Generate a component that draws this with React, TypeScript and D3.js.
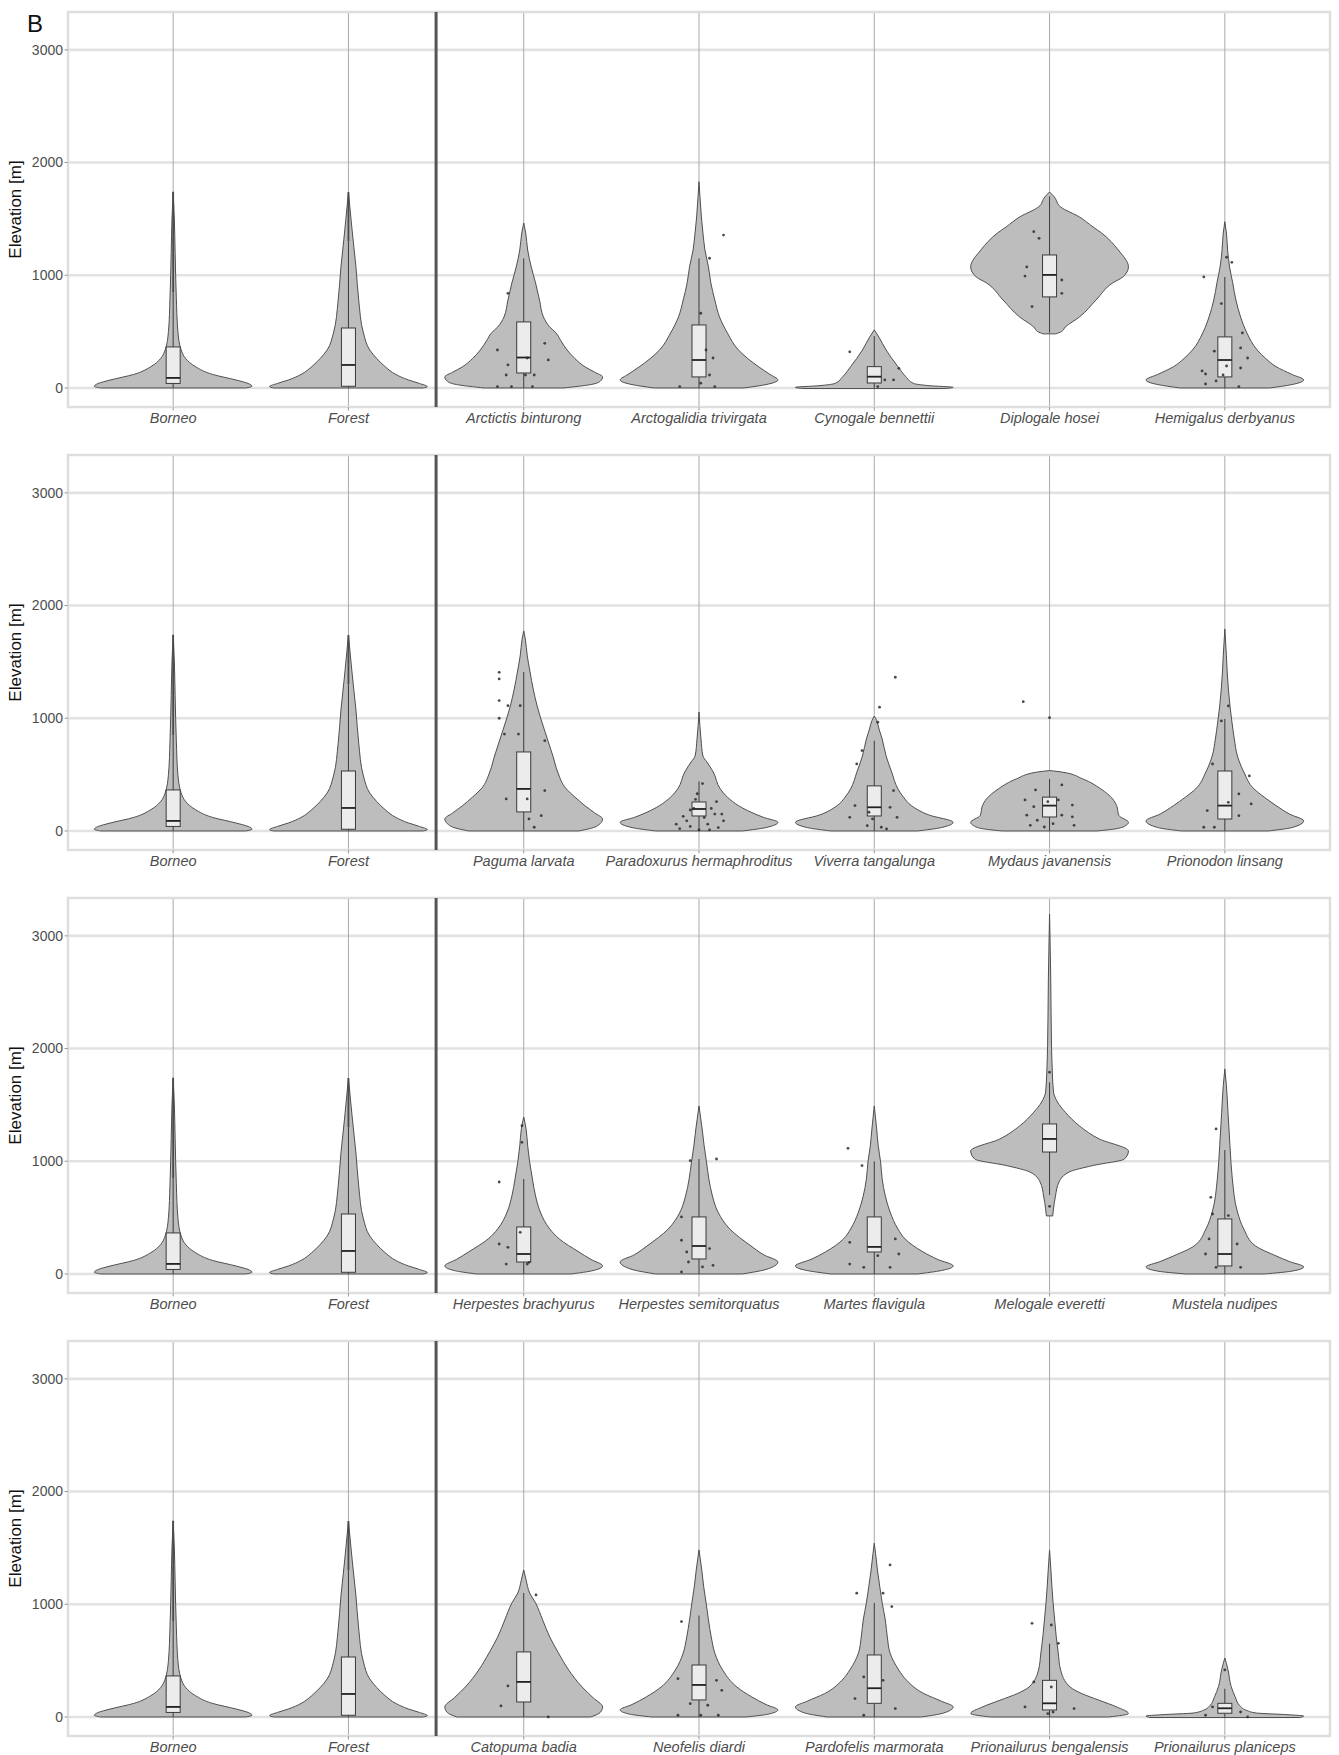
import React from "react";
import * as d3 from "d3";

// ---------- categories ----------
const baseCats = ["Borneo", "Forest"];
const row1Species = ["Arctictis binturong", "Arctogalidia trivirgata", "Cynogale bennettii", "Diplogale hosei", "Hemigalus derbyanus"];
const row2Species = ["Paguma larvata", "Paradoxurus hermaphroditus", "Viverra tangalunga", "Mydaus javanensis", "Prionodon linsang"];
const row3Species = ["Herpestes brachyurus", "Herpestes semitorquatus", "Martes flavigula", "Melogale everetti", "Mustela nudipes"];
const row4Species = ["Catopuma badia", "Neofelis diardi", "Pardofelis marmorata", "Prionailurus bengalensis", "Prionailurus planiceps"];
const rows = [row1Species, row2Species, row3Species, row4Species];
const yTicks = [0, 1000, 2000, 3000];
const yDomain = [-169, 3336];

// ---------- violin density profiles: [elevation, relative width] ----------
const vBorneo = [[0, 0.92], [15, 1.0], [40, 0.95], [70, 0.8], [120, 0.5], [190, 0.28], [260, 0.16], [340, 0.1], [500, 0.06], [800, 0.04], [1200, 0.025], [1500, 0.015], [1740, 0]];
const vForest = [[0, 0.95], [12, 1.0], [40, 0.9], [71, 0.76], [120, 0.6], [186, 0.47], [260, 0.36], [337, 0.27], [488, 0.19], [781, 0.13], [1074, 0.095], [1375, 0.05], [1517, 0.03], [1739, 0]];
const vArctictis = [[0, 0.5], [30, 0.85], [60, 0.97], [98, 1.0], [140, 0.9], [186, 0.78], [260, 0.65], [337, 0.55], [420, 0.47], [488, 0.41], [541, 0.33], [630, 0.25], [781, 0.2], [932, 0.15], [1074, 0.095], [1224, 0.05], [1375, 0.025], [1464, 0]];
const vArctogalidia = [[0, 0.57], [30, 0.85], [71, 1.0], [120, 0.9], [186, 0.76], [260, 0.62], [337, 0.5], [488, 0.36], [630, 0.26], [781, 0.2], [932, 0.15], [1074, 0.12], [1225, 0.075], [1375, 0.05], [1517, 0.03], [1700, 0.012], [1830, 0]];
const vCynogale = [[-5, 0.9], [5, 1.0], [20, 0.7], [40, 0.5], [100, 0.4], [189, 0.3], [337, 0.15], [450, 0.06], [515, 0]];
const vDiplogale = [[480, 0.08], [500, 0.15], [541, 0.2], [630, 0.38], [781, 0.59], [932, 0.8], [985, 0.93], [1074, 1.0], [1225, 0.87], [1375, 0.66], [1429, 0.55], [1517, 0.38], [1606, 0.14], [1695, 0.06], [1739, 0]];
const vHemigalus = [[0, 0.57], [30, 0.85], [71, 1.0], [120, 0.85], [189, 0.65], [260, 0.52], [337, 0.41], [488, 0.28], [630, 0.2], [781, 0.14], [932, 0.1], [1074, 0.06], [1224, 0.035], [1375, 0.02], [1475, 0]];
const vPaguma = [[0, 0.7], [40, 0.92], [106, 1.0], [160, 0.9], [222, 0.78], [300, 0.65], [373, 0.54], [524, 0.43], [665, 0.37], [816, 0.3], [967, 0.23], [1109, 0.17], [1260, 0.12], [1411, 0.08], [1553, 0.045], [1704, 0.02], [1775, 0]];
const vParadoxurus = [[0, 0.55], [30, 0.85], [77, 1.0], [120, 0.82], [166, 0.66], [225, 0.5], [300, 0.36], [373, 0.27], [524, 0.18], [612, 0.1], [665, 0.05], [816, 0.025], [1056, 0]];
const vViverra = [[0, 0.55], [30, 0.85], [77, 1.0], [140, 0.7], [225, 0.47], [300, 0.37], [373, 0.3], [524, 0.22], [665, 0.15], [816, 0.1], [905, 0.06], [980, 0.03], [1020, 0]];
const vMydaus = [[0, 0.6], [20, 0.85], [50, 0.97], [77, 1.0], [136, 0.88], [225, 0.85], [284, 0.8], [373, 0.65], [462, 0.42], [521, 0.17], [536, 0]];
const vPrionodon = [[0, 0.55], [30, 0.85], [89, 1.0], [150, 0.82], [225, 0.65], [300, 0.5], [373, 0.37], [524, 0.24], [665, 0.16], [816, 0.12], [967, 0.09], [1109, 0.065], [1260, 0.045], [1411, 0.03], [1553, 0.02], [1792, 0]];
const vHerpBrach = [[0, 0.6], [30, 0.88], [71, 1.0], [130, 0.85], [195, 0.7], [311, 0.45], [399, 0.33], [550, 0.21], [692, 0.15], [843, 0.11], [994, 0.075], [1138, 0.05], [1287, 0.03], [1393, 0]];
const vHerpSemi = [[0, 0.55], [40, 0.85], [106, 1.0], [170, 0.82], [248, 0.66], [399, 0.39], [550, 0.24], [692, 0.17], [843, 0.125], [994, 0.095], [1138, 0.065], [1287, 0.04], [1491, 0]];
const vMartes = [[0, 0.55], [30, 0.85], [71, 1.0], [130, 0.8], [195, 0.62], [311, 0.39], [399, 0.3], [550, 0.2], [692, 0.14], [843, 0.1], [994, 0.08], [1138, 0.05], [1287, 0.03], [1491, 0]];
const vMelogale = [[515, 0.04], [577, 0.05], [692, 0.075], [816, 0.12], [905, 0.25], [962, 0.55], [1020, 0.95], [1091, 1.0], [1198, 0.63], [1313, 0.38], [1435, 0.2], [1526, 0.1], [1615, 0.05], [1792, 0.035], [2024, 0.025], [2618, 0.015], [2900, 0.008], [3194, 0]];
const vMustela = [[0, 0.5], [25, 0.85], [62, 1.0], [110, 0.82], [160, 0.65], [248, 0.39], [399, 0.24], [550, 0.16], [843, 0.095], [1138, 0.065], [1435, 0.04], [1670, 0.02], [1819, 0]];
const vCatopuma = [[0, 0.85], [40, 0.97], [89, 1.0], [170, 0.88], [266, 0.74], [417, 0.57], [568, 0.44], [710, 0.33], [861, 0.24], [1012, 0.15], [1100, 0.075], [1216, 0.03], [1304, 0]];
const vNeofelis = [[0, 0.6], [25, 0.88], [62, 1.0], [110, 0.85], [177, 0.67], [266, 0.48], [417, 0.3], [568, 0.2], [710, 0.155], [861, 0.12], [1012, 0.09], [1154, 0.06], [1304, 0.035], [1482, 0]];
const vPardofelis = [[0, 0.6], [35, 0.88], [89, 1.0], [140, 0.85], [207, 0.63], [325, 0.41], [417, 0.31], [568, 0.2], [710, 0.165], [861, 0.14], [1012, 0.1], [1154, 0.07], [1304, 0.04], [1452, 0.016], [1541, 0]];
const vBengalensis = [[0, 0.75], [30, 1.0], [89, 0.85], [148, 0.63], [207, 0.41], [266, 0.26], [417, 0.14], [568, 0.11], [710, 0.085], [861, 0.065], [1012, 0.045], [1154, 0.03], [1304, 0.017], [1482, 0]];
const vPlaniceps = [[-5, 0.95], [8, 1.0], [20, 0.8], [35, 0.4], [60, 0.27], [100, 0.19], [180, 0.13], [270, 0.08], [420, 0.04], [523, 0]];

// ---------- boxplot stats: [whiskerLow, q1, median, q3, whiskerHigh] ----------
const boxBorneo = [0, 40, 89, 364, 850];
const boxForest = [0, 15, 204, 532, 1300];
const boxArctictis = [0, 133, 270, 586, 1150];
const boxArctogalidia = [0, 98, 248, 559, 1150];
const boxCynogale = [0, 44, 100, 189, 460];
const boxDiplogale = [490, 808, 1003, 1180, 1700];
const boxHemigalus = [0, 98, 248, 453, 985];
const boxPaguma = [0, 169, 373, 701, 1410];
const boxParadoxurus = [0, 133, 195, 257, 440];
const boxViverra = [0, 133, 210, 400, 800];
const boxMydaus = [0, 124, 225, 300, 462];
const boxPrionodon = [0, 106, 225, 532, 994];
const boxHerpBrach = [0, 106, 177, 417, 843];
const boxHerpSemi = [0, 133, 248, 506, 1020];
const boxMartes = [0, 195, 240, 506, 1000];
const boxMelogale = [700, 1082, 1198, 1331, 1700];
const boxMustela = [0, 71, 177, 488, 1100];
const boxCatopuma = [0, 133, 311, 577, 1100];
const boxNeofelis = [0, 151, 284, 461, 900];
const boxPardofelis = [0, 121, 255, 550, 1012];
const boxBengalensis = [0, 62, 121, 325, 650];
const boxPlaniceps = [0, 33, 77, 121, 250];

// dense outlier columns [from, to]
const outlierColumns = { Borneo: [850, 1740], Forest: [1300, 1739] };

// ---------- jittered observations: [jitter (category units), elevation] ----------
const ptsArctictis = [[-0.09, 840], [-0.15, 337], [0.12, 396], [0.14, 249], [-0.09, 204], [-0.1, 115], [-0.15, 12], [-0.07, 12], [0.01, 115], [0.06, 115], [0.05, 12], [0.02, 266]];
const ptsArctogalidia = [[0.14, 1357], [0.06, 1151], [0.01, 663], [0.08, 266], [0.04, 337], [-0.11, 12], [0.06, 115], [0.09, 12], [0.01, 42]];
const ptsCynogale = [[-0.14, 321], [0.14, 174], [0.11, 71], [0.06, 71], [0.02, 12]];
const ptsDiplogale = [[-0.09, 1387], [-0.06, 1328], [-0.13, 1074], [-0.14, 993], [0.07, 958], [0.07, 840], [-0.1, 722]];
const ptsHemigalus = [[0.01, 1160], [0.04, 1115], [-0.12, 985], [-0.02, 749], [0.1, 488], [0.09, 355], [0.13, 266], [0.09, 177], [-0.06, 326], [-0.13, 151], [-0.11, 124], [-0.11, 35], [-0.05, 62], [0.01, 195], [-0.01, 115], [0.08, 12]];
const ptsPaguma = [[-0.14, 1408], [-0.14, 1349], [-0.14, 1157], [-0.09, 1112], [-0.02, 1112], [-0.14, 1000], [-0.11, 860], [-0.03, 860], [0.12, 801], [0.12, 358], [-0.1, 284], [0.1, 136], [0.03, 107], [0.06, 33], [0.02, 284]];
const ptsParadoxurus = [[-0.05, 186], [-0.02, 280], [0.1, 260], [0.09, 150], [-0.07, 90], [0.05, 60], [-0.11, 20], [0.11, 30], [0.03, 120], [-0.03, 200], [-0.09, 130], [0.07, 200], [0.14, 90], [-0.13, 60], [0.0, 10], [0.06, 10], [-0.05, 40], [0.13, 150], [-0.01, 330], [0.02, 420]];
const ptsViverra = [[0.12, 1364], [0.03, 1098], [0.02, 965], [-0.07, 713], [-0.1, 595], [0.11, 358], [0.09, 210], [0.13, 121], [-0.14, 121], [-0.03, 166], [-0.01, 107], [0.04, 33], [-0.04, 47], [0.07, 18], [-0.11, 225]];
const ptsMydaus = [[-0.15, 1147], [0.0, 1005], [-0.08, 364], [0.07, 408], [-0.14, 275], [-0.09, 215], [0.13, 230], [-0.13, 140], [0.07, 140], [0.13, 125], [-0.11, 50], [-0.03, 35], [0.02, 65], [0.14, 50], [-0.01, 260], [0.05, 275], [-0.07, 95]];
const ptsPrionodon = [[0.14, 488], [0.02, 1109], [-0.02, 976], [-0.07, 594], [0.08, 329], [0.15, 240], [0.08, 136], [-0.1, 181], [-0.12, 33], [-0.06, 33], [0.02, 254]];
const ptsHerpBrach = [[-0.01, 1168], [-0.01, 1316], [-0.14, 816], [-0.14, 266], [-0.09, 236], [-0.1, 88], [0.02, 88], [0.03, 103], [-0.02, 369]];
const ptsHerpSemi = [[0.1, 1020], [-0.05, 1005], [-0.1, 506], [-0.1, 299], [-0.07, 195], [-0.06, 106], [0.08, 77], [0.02, 62], [-0.1, 18], [0.06, 225]];
const ptsMartes = [[-0.15, 1115], [-0.07, 962], [-0.14, 281], [0.12, 311], [0.14, 177], [-0.14, 88], [-0.06, 59], [0.09, 59], [0.02, 162]];
const ptsMelogale = [[0.0, 1790], [0.0, 600]];
const ptsMustela = [[-0.05, 1287], [-0.08, 680], [-0.07, 532], [-0.09, 311], [-0.11, 177], [0.07, 266], [0.09, 59], [-0.05, 59], [0.02, 518]];
const ptsCatopuma = [[0.07, 1083], [-0.09, 275], [-0.13, 98], [0.14, 0]];
const ptsNeofelis = [[-0.1, 846], [-0.12, 340], [0.1, 325], [0.13, 236], [-0.05, 118], [0.05, 104], [-0.12, 15], [0.11, 15], [0.01, 15]];
const ptsPardofelis = [[0.09, 1349], [-0.1, 1098], [0.05, 1098], [0.1, 979], [-0.06, 355], [-0.11, 163], [0.05, 325], [0.12, 74], [-0.06, 15]];
const ptsBengalensis = [[-0.1, 831], [0.01, 816], [0.05, 653], [-0.09, 311], [0.01, 266], [-0.14, 89], [0.14, 74], [-0.01, 30], [0.02, 44]];
const ptsPlaniceps = [[0.0, 417], [-0.07, 89], [0.09, 44], [-0.11, 15], [0.13, 0]];

const violinTable = {
  Borneo: vBorneo, Forest: vForest,
  "Arctictis binturong": vArctictis, "Arctogalidia trivirgata": vArctogalidia, "Cynogale bennettii": vCynogale, "Diplogale hosei": vDiplogale, "Hemigalus derbyanus": vHemigalus,
  "Paguma larvata": vPaguma, "Paradoxurus hermaphroditus": vParadoxurus, "Viverra tangalunga": vViverra, "Mydaus javanensis": vMydaus, "Prionodon linsang": vPrionodon,
  "Herpestes brachyurus": vHerpBrach, "Herpestes semitorquatus": vHerpSemi, "Martes flavigula": vMartes, "Melogale everetti": vMelogale, "Mustela nudipes": vMustela,
  "Catopuma badia": vCatopuma, "Neofelis diardi": vNeofelis, "Pardofelis marmorata": vPardofelis, "Prionailurus bengalensis": vBengalensis, "Prionailurus planiceps": vPlaniceps,
};
const boxTable = {
  Borneo: boxBorneo, Forest: boxForest,
  "Arctictis binturong": boxArctictis, "Arctogalidia trivirgata": boxArctogalidia, "Cynogale bennettii": boxCynogale, "Diplogale hosei": boxDiplogale, "Hemigalus derbyanus": boxHemigalus,
  "Paguma larvata": boxPaguma, "Paradoxurus hermaphroditus": boxParadoxurus, "Viverra tangalunga": boxViverra, "Mydaus javanensis": boxMydaus, "Prionodon linsang": boxPrionodon,
  "Herpestes brachyurus": boxHerpBrach, "Herpestes semitorquatus": boxHerpSemi, "Martes flavigula": boxMartes, "Melogale everetti": boxMelogale, "Mustela nudipes": boxMustela,
  "Catopuma badia": boxCatopuma, "Neofelis diardi": boxNeofelis, "Pardofelis marmorata": boxPardofelis, "Prionailurus bengalensis": boxBengalensis, "Prionailurus planiceps": boxPlaniceps,
};
const pointTable = {
  "Arctictis binturong": ptsArctictis, "Arctogalidia trivirgata": ptsArctogalidia, "Cynogale bennettii": ptsCynogale, "Diplogale hosei": ptsDiplogale, "Hemigalus derbyanus": ptsHemigalus,
  "Paguma larvata": ptsPaguma, "Paradoxurus hermaphroditus": ptsParadoxurus, "Viverra tangalunga": ptsViverra, "Mydaus javanensis": ptsMydaus, "Prionodon linsang": ptsPrionodon,
  "Herpestes brachyurus": ptsHerpBrach, "Herpestes semitorquatus": ptsHerpSemi, "Martes flavigula": ptsMartes, "Melogale everetti": ptsMelogale, "Mustela nudipes": ptsMustela,
  "Catopuma badia": ptsCatopuma, "Neofelis diardi": ptsNeofelis, "Pardofelis marmorata": ptsPardofelis, "Prionailurus bengalensis": ptsBengalensis, "Prionailurus planiceps": ptsPlaniceps,
};

// ---------- layout ----------
const W = 1339;
const H = 1755;
const PANEL_LEFT = 68;
const PANEL_RIGHT = 1330;
const ROW_TOP0 = 12;
const ROW_STEP = 443;
const PANEL_H = 395;
const FONT = "'Liberation Sans', Arial, Helvetica, sans-serif";

function Row({ species, index }) {
  const top = ROW_TOP0 + index * ROW_STEP;
  const bottom = top + PANEL_H;
  const cats = [...baseCats, ...species];
  const x = d3.scalePoint().domain(cats).range([PANEL_LEFT, PANEL_RIGHT]).padding(0.6);
  const step = x.step();
  const y = d3.scaleLinear().domain(yDomain).range([bottom, top]);
  const halfW = step * 0.45;
  const boxHalf = step * 0.04;
  const sepX = ((x(cats[1]) as number) + (x(cats[2]) as number)) / 2;

  const violinPath = (cx, prof) =>
    d3
      .area()
      .y((d) => y(d[0]))
      .x0((d) => cx - d[1] * halfW)
      .x1((d) => cx + d[1] * halfW)
      .curve(d3.curveMonotoneY)(prof);

  return (
    <g>
      <rect x={PANEL_LEFT} y={top} width={PANEL_RIGHT - PANEL_LEFT} height={PANEL_H} fill="#fff" />
      {yTicks.map((t) => (
        <line key={"h" + t} x1={PANEL_LEFT} x2={PANEL_RIGHT} y1={y(t)} y2={y(t)} stroke="#e2e2e2" strokeWidth={2.6} />
      ))}
      {cats.map((c) => (
        <line key={"v" + c} x1={x(c)} x2={x(c)} y1={top} y2={bottom} stroke="#a9a9a9" strokeWidth={1} />
      ))}
      <rect x={PANEL_LEFT} y={top} width={PANEL_RIGHT - PANEL_LEFT} height={PANEL_H} fill="none" stroke="#dedede" strokeWidth={2.5} />
      {cats.map((c) => {
        const cx = x(c) as number;
        const prof = violinTable[c];
        const b = boxTable[c];
        const pts = pointTable[c] || [];
        const oc = outlierColumns[c];
        return (
          <g key={"g" + c}>
            <path d={violinPath(cx, prof)} fill="#bdbdbd" stroke="#4f4f4f" strokeWidth={1} />
            <line x1={cx} x2={cx} y1={y(b[0])} y2={y(b[1])} stroke="#3a3a3a" strokeWidth={1} />
            <line x1={cx} x2={cx} y1={y(b[3])} y2={y(b[4])} stroke="#3a3a3a" strokeWidth={1} />
            {oc && <line x1={cx} x2={cx} y1={y(oc[0])} y2={y(oc[1])} stroke="#4a4a4a" strokeWidth={1.8} />}
            <rect x={cx - boxHalf} y={y(b[3])} width={boxHalf * 2} height={y(b[1]) - y(b[3])} fill="#ececec" stroke="#3a3a3a" strokeWidth={1} />
            <line x1={cx - boxHalf} x2={cx + boxHalf} y1={y(b[2])} y2={y(b[2])} stroke="#222" strokeWidth={1.8} />
            {pts.map((p, i) => (
              <circle key={i} cx={cx + p[0] * step} cy={y(p[1])} r={1.4} fill="#2a2a2a" opacity={0.85} />
            ))}
          </g>
        );
      })}
      <line x1={sepX} x2={sepX} y1={top} y2={bottom} stroke="#555" strokeWidth={3} />
      {yTicks.map((t) => (
        <g key={"yt" + t}>
          <line x1={PANEL_LEFT - 3.5} x2={PANEL_LEFT} y1={y(t)} y2={y(t)} stroke="#9a9a9a" strokeWidth={1} />
          <text x={PANEL_LEFT - 5} y={y(t)} dy="0.35em" textAnchor="end" fontSize={14} fill="#4d4d4d" fontFamily={FONT}>
            {t}
          </text>
        </g>
      ))}
      {cats.map((c) => (
        <g key={"xt" + c}>
          <line x1={x(c)} x2={x(c)} y1={bottom} y2={bottom + 3.5} stroke="#9a9a9a" strokeWidth={1} />
          <text x={x(c)} y={bottom + 16} textAnchor="middle" fontSize={14.5} fontStyle="italic" fill="#4d4d4d" fontFamily={FONT}>
            {c}
          </text>
        </g>
      ))}
      <text
        transform={`translate(21,${(top + bottom) / 2}) rotate(-90)`}
        textAnchor="middle"
        fontSize={17}
        fill="#111"
        fontFamily={FONT}
      >
        Elevation [m]
      </text>
    </g>
  );
}

export default function App() {
  return (
    <svg
      width={W}
      height={H}
      viewBox={`0 0 ${W} ${H}`}
      style={{ display: "block", position: "absolute", left: 0, top: 0, background: "#fff" }}
    >
      <rect x={0} y={0} width={W} height={H} fill="#fff" />
      {rows.map((sp, i) => (
        <Row key={i} species={sp} index={i} />
      ))}
      <text x={27} y={32} fontSize={24} fill="#111" fontFamily={FONT}>
        B
      </text>
    </svg>
  );
}
